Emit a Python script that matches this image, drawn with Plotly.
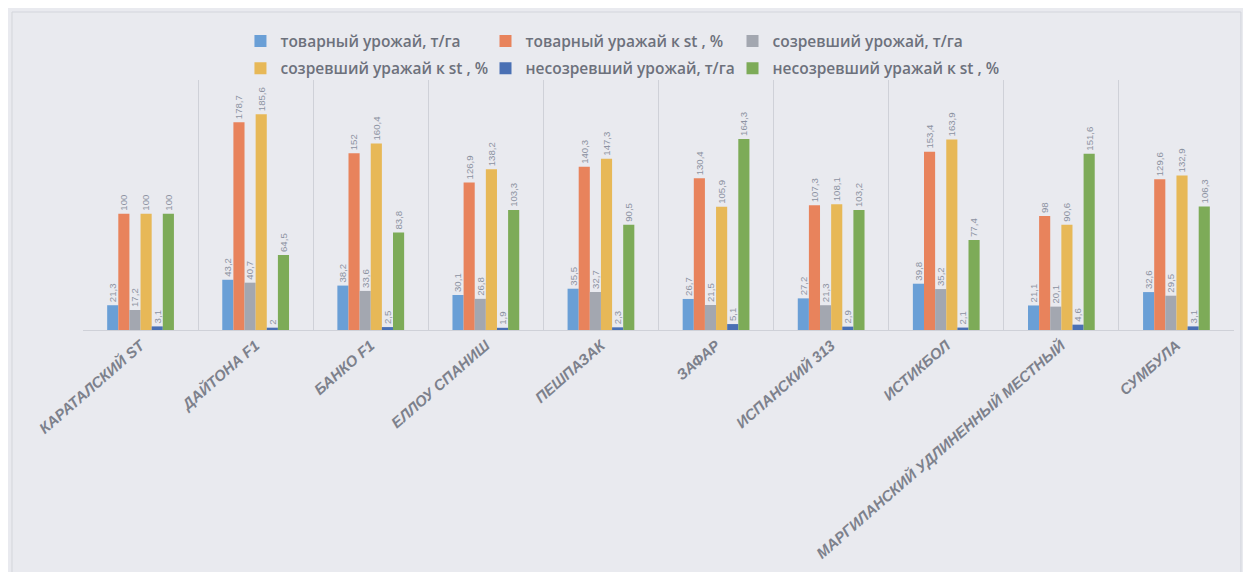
import plotly.graph_objects as go

categories = ["КАРАТАЛСКИЙ ST", "ДАЙТОНА F1", "БАНКО F1", "ЕЛЛОУ СПАНИШ", "ПЕШПАЗАК",
              "ЗАФАР", "ИСПАНСКИЙ 313", "ИСТИКБОЛ", "МАРГИЛАНСКИЙ УДЛИНЕННЫЙ МЕСТНЫЙ", "СУМБУЛА"]

tovar_t = [21.3, 43.2, 38.2, 30.1, 35.5, 26.7, 27.2, 39.8, 21.1, 32.6]
tovar_pct = [100, 178.7, 152, 126.9, 140.3, 130.4, 107.3, 153.4, 98, 129.6]
sozr_t = [17.2, 40.7, 33.6, 26.8, 32.7, 21.5, 21.3, 35.2, 20.1, 29.5]
sozr_pct = [100, 185.6, 160.4, 138.2, 147.3, 105.9, 108.1, 163.9, 90.6, 132.9]
nesozr_t = [3.1, 2, 2.5, 1.9, 2.3, 5.1, 2.9, 2.1, 4.6, 3.1]
nesozr_pct = [100, 64.5, 83.8, 103.3, 90.5, 164.3, 103.2, 77.4, 151.6, 106.3]

series_names = ["товарный урожай, т/га", "товарный уражай к st , %", "созревший урожай, т/га",
                "созревший уражай к st , %", "несозревший урожай, т/га", "несозревший уражай к st , %"]
series_values = [tovar_t, tovar_pct, sozr_t, sozr_pct, nesozr_t, nesozr_pct]
series_colors = ["#6a9fd6", "#e8835c", "#a3a7b0", "#e7b857", "#4a70b4", "#7dab58"]
legend_ids = ["legend", "legend2", "legend3", "legend", "legend2", "legend3"]


def fmt(v):
    return f"{v:g}".replace(".", ",")


fig = go.Figure()
for i, (name, vals, col, lg) in enumerate(zip(series_names, series_values, series_colors, legend_ids)):
    fig.add_trace(go.Bar(
        x=categories, y=vals, name=name, marker=dict(color=col, line=dict(width=0)),
        text=[fmt(v) for v in vals], textposition="outside", textangle=-90,
        textfont=dict(size=10, color="#8d93a2", family="Liberation Sans"),
        cliponaxis=False, legend=lg, legendgroup=f"g{i}",
    ))

legend_font = dict(size=15.5, color="#6d717c", family="Open Sans", weight=600)


def legend_box(xpos):
    return dict(orientation="v", x=xpos, xanchor="left", y=1.10, yanchor="middle",
                bgcolor="rgba(0,0,0,0)", font=legend_font, itemwidth=30,
                tracegroupgap=4, traceorder="grouped")


# page has an 8px body margin; figure sized so plot area sits at x 83..1234, y 80..330 in the window
fig.update_layout(
    width=1235, height=564,
    margin=dict(l=75, r=9, t=72, b=242, autoexpand=False),
    paper_bgcolor="#e9eaef", plot_bgcolor="#e9eaef",
    barmode="group", bargap=0.42, bargroupgap=0,
    uniformtext=dict(minsize=8, mode="show"),
    font=dict(family="Liberation Sans", color="#6d717c"),
    showlegend=True,
    legend=legend_box(0.1368),
    legend2=legend_box(0.3497),
    legend3=legend_box(0.5643),
    xaxis=dict(type="category", tickson="boundaries", showgrid=True, gridcolor="#cfd1d8",
               gridwidth=1, showline=True, linecolor="#cfd1d8", ticks="", tickangle=-41,
               automargin=False,
               tickfont=dict(size=15, color="#7d818c", family="Liberation Sans",
                             weight="bold", style="italic")),
    yaxis=dict(range=[0, 215], showgrid=False, showticklabels=False, zeroline=False,
               showline=False, automargin=False),
    shapes=[dict(type="rect", xref="paper", yref="paper", x0=-0.0617, x1=1.006, y0=-1.2, y1=1.272,
                 line=dict(color="#d3d5dc", width=1), fillcolor="rgba(0,0,0,0)", layer="below")],
)

fig.write_html("out.html")
